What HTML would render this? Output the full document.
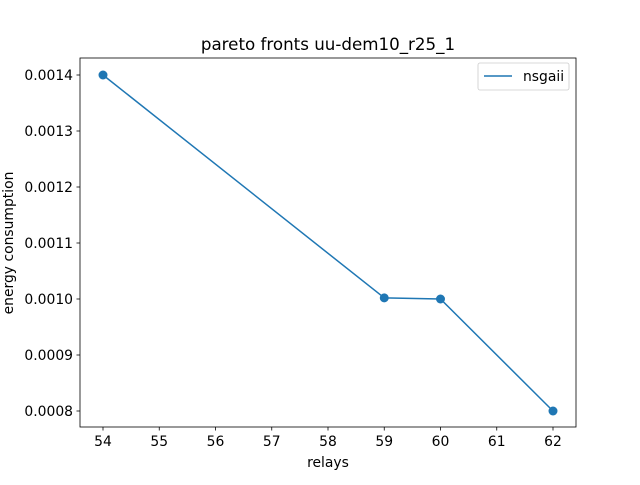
<!DOCTYPE html>
<html><head><meta charset="utf-8"><style>
body{margin:0;background:#fff;}
svg text{font-family:"DejaVu Sans","Liberation Sans",sans-serif;fill:#000;}
</style></head><body>
<svg id="chart" width="640" height="480" viewBox="0 0 640 480" xmlns="http://www.w3.org/2000/svg">
<rect width="640" height="480" fill="#fff"/>
<text x="328" y="50" font-size="16.7" text-anchor="middle">pareto fronts uu-dem10_r25_1</text>
<g id="xticks"></g><g id="yticks"></g>
<g id="series"></g>
<rect x="80" y="58" width="496" height="369" fill="none" stroke="#000" stroke-width="0.8"/>
<text x="328" y="467" font-size="13.9" text-anchor="middle">relays</text>
<text transform="translate(13,243) rotate(-90)" font-size="13.9" text-anchor="middle">energy consumption</text>
<g>
<rect x="478" y="63" width="91" height="27" rx="2" fill="#fff" stroke="#ccc" stroke-width="0.8"/>
<line x1="484" y1="76" x2="512" y2="76" stroke="#1f77b4" stroke-width="1.5"/>
<text x="523" y="81" font-size="13.9">nsgaii</text>
</g>
</svg>
<script>
const xValues=[54,59,60,62];
const yValues=[0.0014,0.001002,0.001,0.0008];
const xTicks=[54,55,56,57,58,59,60,61,62];
const yTicks=[0.0008,0.0009,0.0010,0.0011,0.0012,0.0013,0.0014];
const yTickLabels=["0.0008","0.0009","0.0010","0.0011","0.0012","0.0013","0.0014"];
const NS="http://www.w3.org/2000/svg";
function sx(v){return 103+(v-54)*56.25;}
function sy(v){return 411-(v-0.0008)*560000;}
function mk(t,a,p){const e=document.createElementNS(NS,t);for(const k in a)e.setAttribute(k,a[k]);p.appendChild(e);return e;}
const xg=document.getElementById('xticks'),yg=document.getElementById('yticks'),sg=document.getElementById('series');
xTicks.forEach(v=>{
const l=mk('line',{x1:sx(v),x2:sx(v),y1:427,y2:430.5,stroke:'#000','stroke-width':0.8},xg);


const t=mk('text',{x:sx(v),y:446,'font-size':13.9,'text-anchor':'middle'},xg);t.textContent=v;


});
yTicks.forEach((v,i)=>{
const l=mk('line',{x1:76.5,x2:80,y1:sy(v),y2:sy(v),stroke:'#000','stroke-width':0.8},yg);


const t=mk('text',{x:73,y:sy(v)+5,'font-size':13.9,'text-anchor':'end'},yg);t.textContent=yTickLabels[i];


});
const pl=mk('polyline',{points:xValues.map((x,i)=>sx(x)+','+sy(yValues[i])).join(' '),fill:'none',stroke:'#1f77b4','stroke-width':1.5},sg);


xValues.forEach((x,i)=>{
const c=mk('circle',{cx:sx(x),cy:sy(yValues[i]),r:4.5,fill:'#1f77b4'},sg);


});
</script>
</body></html>
